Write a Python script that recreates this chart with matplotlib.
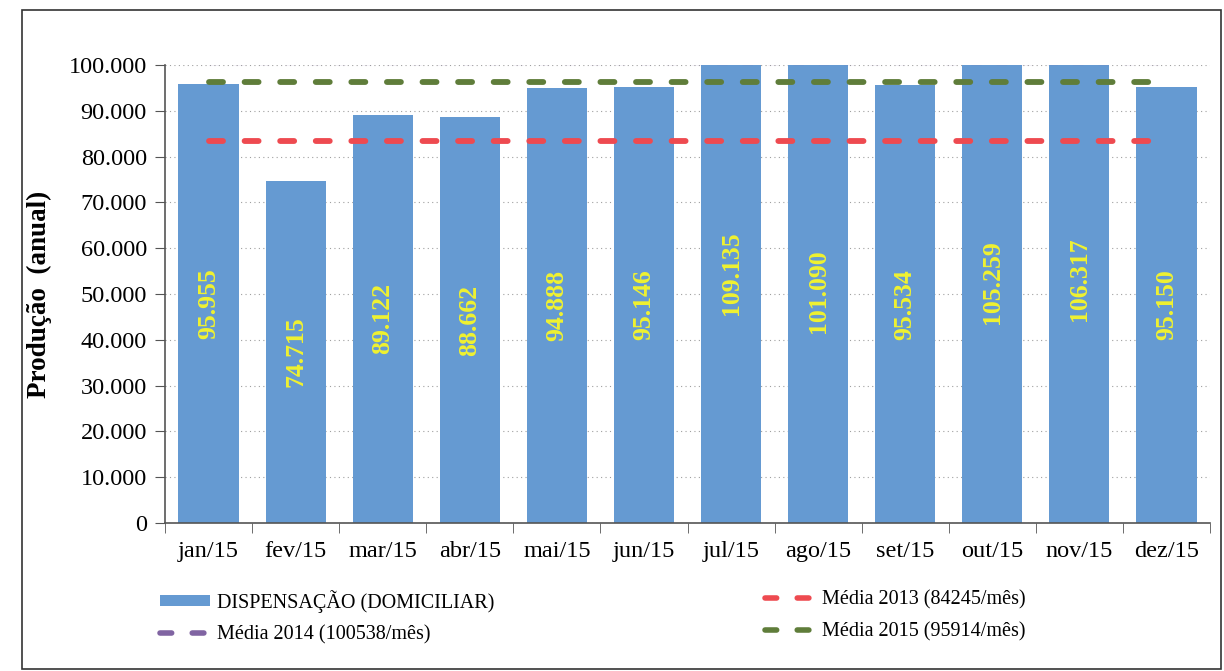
import matplotlib
matplotlib.use("Agg")
import matplotlib.pyplot as plt
from matplotlib.patches import Rectangle, Patch
from matplotlib.lines import Line2D
import numpy as np

months = ["jan/15", "fev/15", "mar/15", "abr/15", "mai/15", "jun/15",
          "jul/15", "ago/15", "set/15", "out/15", "nov/15", "dez/15"]
dispensacao = [95955, 74715, 89122, 88662, 94888, 95146,
               109135, 101090, 95534, 105259, 106317, 95150]
bar_labels = ["95.955", "74.715", "89.122", "88.662", "94.888", "95.146",
              "109.135", "101.090", "95.534", "105.259", "106.317", "95.150"]
media_2013 = [83500] * 12
media_2014 = [100538] * 12
media_2015 = [96200] * 12
legend_labels = ["DISPENSAÇÃO (DOMICILIAR)", "Média 2014 (100538/mês)",
                 "Média 2013 (84245/mês)", "Média 2015 (95914/mês)"]
y_ticks = [0, 10000, 20000, 30000, 40000, 50000, 60000, 70000, 80000, 90000, 100000]
y_ticklabels = ["0", "10.000", "20.000", "30.000", "40.000", "50.000", "60.000",
                "70.000", "80.000", "90.000", "100.000"]

plt.rcParams['font.family'] = ['Liberation Serif', 'DejaVu Serif']

W, H = 1224, 671
fig = plt.figure(figsize=(W / 100, H / 100), dpi=100)
ax = fig.add_axes([165 / W, 1 - 523 / H, (1210 - 165) / W, (523 - 65) / H])

bar_color = '#659ad2'
red = '#ee4a50'
green = '#5f7d3a'
purple = '#8064a2'

x = np.arange(len(months))
bars = ax.bar(x, dispensacao, width=0.69, color=bar_color, zorder=2)

for xi, v, lab in zip(x, dispensacao, bar_labels):
    ax.text(xi, v / 2, lab, rotation=90, ha='center', va='center',
            color='#f0f230', fontsize=18.5, fontweight='bold', zorder=5)

dash_kw = dict(dashes=(2.4, 3.7), dash_capstyle='round', zorder=4)
ax.plot(x, media_2014, color=purple, linewidth=3, **dash_kw)
ax.plot(x, media_2013, color=red, linewidth=4.2, **dash_kw)
ax.plot(x, media_2015, color=green, linewidth=4.2, **dash_kw)

ax.set_xlim(-0.5, len(months) - 0.5)
ax.set_ylim(0, 100000)
ax.set_yticks(y_ticks)
ax.set_yticklabels(y_ticklabels, fontsize=17.5)
ax.set_xticks(x)
ax.set_xticklabels(months, fontsize=17.5)
ax.set_xticks(np.arange(-0.5, len(months)), minor=True)
ax.tick_params(axis='x', which='major', length=0, pad=13)
ax.tick_params(axis='x', which='minor', length=7, direction='out', color='#555555')
ax.tick_params(axis='y', length=7, direction='out', color='#555555', pad=6)

ax.grid(axis='y', linestyle=(0, (1, 3)), color='#a0a0a0', linewidth=0.8, zorder=0)
ax.set_axisbelow(True)
for s in ['top', 'right']:
    ax.spines[s].set_visible(False)
for s in ['left', 'bottom']:
    ax.spines[s].set_color('#555555')
    ax.spines[s].set_linewidth(1.2)

ax.set_ylabel("Produção  (anual)", fontsize=19.5, fontweight='bold', labelpad=12)

h_bar = Patch(facecolor=bar_color, edgecolor='none')
leg_dash = dict(linewidth=4, dashes=(2.1, 3.7), dash_capstyle='round')
h14 = Line2D([], [], color=purple, **leg_dash)
h13 = Line2D([], [], color=red, **leg_dash)
h15 = Line2D([], [], color=green, **leg_dash)

leg_kw = dict(loc='upper left', frameon=False, fontsize=14.5, handlelength=2.5,
              handleheight=0.5, labelspacing=0.62, handletextpad=0.35,
              borderaxespad=0, borderpad=0)
fig.legend([h_bar, h14], legend_labels[:2], bbox_to_anchor=(160 / W, 1 - 590 / H), **leg_kw)
fig.legend([h13, h15], legend_labels[2:], bbox_to_anchor=(765 / W, 1 - 590 / H), **leg_kw)

fig.patches.append(Rectangle((22 / W, 2 / H), (1221 - 22) / W, (661 - 2) / H,
                             transform=fig.transFigure, fill=False,
                             edgecolor='#333333', linewidth=1.2))

fig.savefig("out.png", dpi=100)
